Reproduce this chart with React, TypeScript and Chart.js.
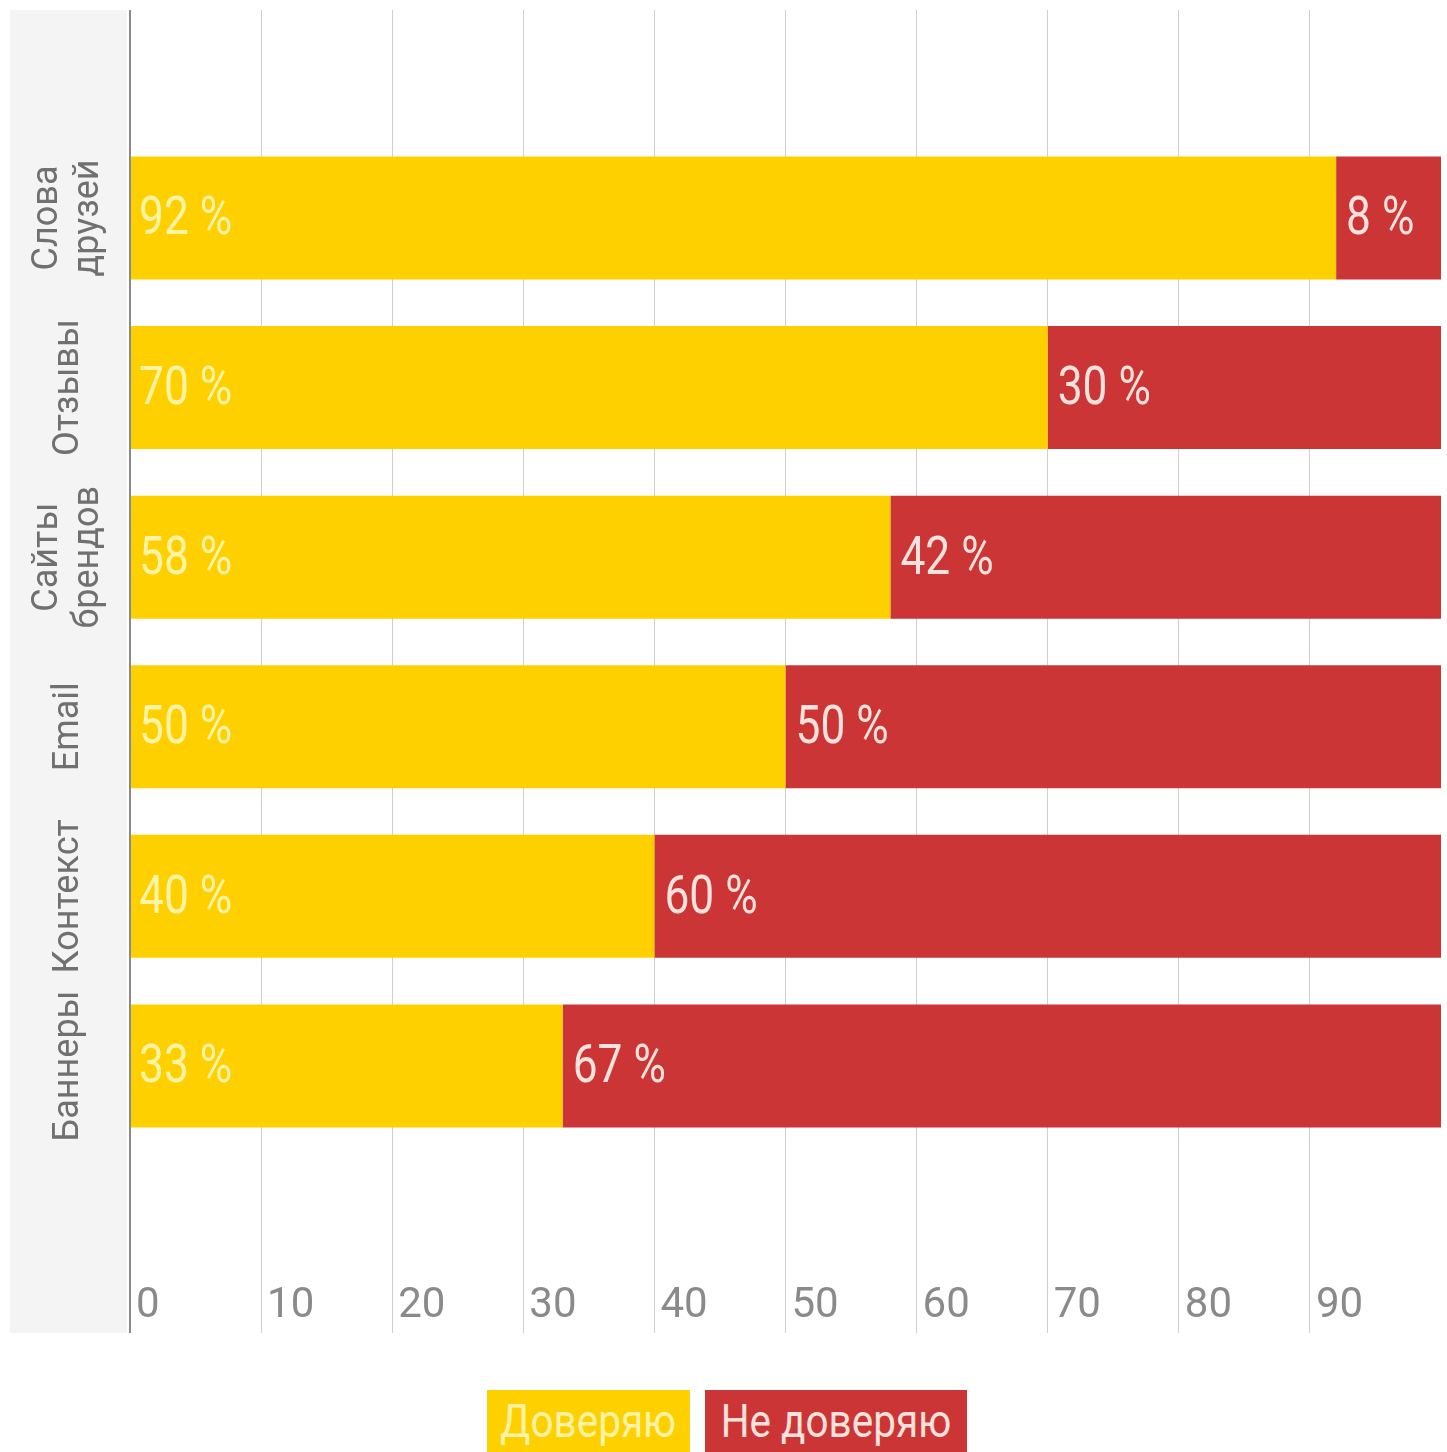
import React, { useEffect, useRef } from "react";
import { Chart, registerables } from "chart.js";

Chart.register(...registerables);

// ---- data ----
const categories: (string | string[])[] = [
  ["Слова", "друзей"],
  "Отзывы",
  ["Сайты", "брендов"],
  "Email",
  "Контекст",
  "Баннеры",
];
const trustValues = [92, 70, 58, 50, 40, 33];
const distrustValues = [8, 30, 42, 50, 60, 67];
const seriesNames = ["Доверяю", "Не доверяю"];
const xMin = 0;
const xMax = 100;
const xStep = 10;

// ---- style ----
const FONT = "Roboto, 'Liberation Sans', sans-serif";
const YELLOW = "#ffd000";
const RED = "#cb3535";
const YELLOW_TEXT = "#fff3a6";
const RED_TEXT = "#fbe2dc";

const valueLabels = {
  id: "valueLabels",
  afterDatasetsDraw(chart: any) {
    const ctx = chart.ctx;
    chart.data.datasets.forEach((ds: any, di: number) => {
      const meta = chart.getDatasetMeta(di);
      meta.data.forEach((el: any, i: number) => {
        const v = ds.data[i].x;
        const { x, y, base } = el.getProps(["x", "y", "base"], true);
        const start = Math.min(x, base);
        ctx.save();
        ctx.font = `54px ${FONT}`;
        ctx.textBaseline = "middle";
        ctx.textAlign = "left";
        ctx.fillStyle = di === 0 ? YELLOW_TEXT : RED_TEXT;
        ctx.translate(start + (di === 0 ? 8 : 10), y + 3);
        ctx.scale(0.82, 1);
        ctx.fillText(`${v} %`, 0, 0);
        ctx.restore();
      });
    });
  },
};

export default function App() {
  const ref = useRef<HTMLCanvasElement | null>(null);

  useEffect(() => {
    if (!ref.current) return;
    const chart = new Chart(ref.current, {
      type: "bar",
      data: {
        datasets: [
          {
            label: seriesNames[0],
            data: trustValues.map((v, i) => ({ x: v, y: i })),
            backgroundColor: YELLOW,
            borderWidth: 0,
          },
          {
            label: seriesNames[1],
            data: distrustValues.map((v, i) => ({ x: v, y: i })),
            backgroundColor: RED,
            borderWidth: 0,
          },
        ],
      },
      options: {
        indexAxis: "y",
        responsive: false,
        animation: false,
        devicePixelRatio: 1,
        barPercentage: 0.725,
        categoryPercentage: 1,
        layout: { padding: { left: 10, right: 6, top: 10, bottom: 0 } },
        plugins: { legend: { display: false }, tooltip: { enabled: false } },
        scales: {
          x: {
            type: "linear",
            position: "bottom",
            min: xMin,
            max: xMax,
            stacked: true,
            border: { display: false },
            grid: {
              color: (c: any) =>
                c.tick && c.tick.value === 0
                  ? "#8a8a8a"
                  : c.tick && c.tick.value === xMax
                  ? "rgba(0,0,0,0)"
                  : "#cfcfcf",
              lineWidth: (c: any) => (c.tick && c.tick.value === 0 ? 2 : 1),
              tickLength: 53,
              drawTicks: true,
            },
            ticks: {
              stepSize: xStep,
              align: "start",
              labelOffset: 6,
              padding: -52,
              maxRotation: 0,
              autoSkip: false,
              color: "#8a8a8a",
              font: { family: FONT, size: 42, lineHeight: 1.2 },
              callback: (v: any) => (v === xMax ? "" : v),
            },
            afterFit: (s: any) => {
              s.height = 60;
            },
          } as any,
          y: {
            type: "linear",
            reverse: true,
            offset: false,
            min: -1.226,
            max: 6.262,
            stacked: true,
            grid: { display: false },
            border: { display: false },
            afterBuildTicks: (s: any) => {
              s.ticks = categories.map((_, i) => ({ value: i }));
            },
            ticks: {
              minRotation: 90,
              maxRotation: 90,
              crossAlign: "center",
              padding: -24,
              autoSkip: false,
              color: "#707070",
              font: { family: FONT, size: 36, lineHeight: 1.14 },
              callback: (v: any) => (categories[v] !== undefined ? categories[v] : ""),
            },
            afterFit: (s: any) => {
              s.width = 120;
            },
          } as any,
        },
      },
      plugins: [valueLabels],
    } as any);
    return () => chart.destroy();
  }, []);

  const legendText = (t: string) => (
    <span style={{ display: "inline-block", transform: "scaleX(0.88)" }}>{t}</span>
  );

  return (
    <div
      style={{
        position: "absolute",
        left: 0,
        top: 0,
        width: 1447,
        height: 1452,
        overflow: "hidden",
        background: "#ffffff",
      }}
    >
      <div
        style={{
          position: "absolute",
          left: 10,
          top: 10,
          width: 117,
          height: 1323,
          background: "#f4f4f4",
        }}
      />
      <canvas
        ref={ref}
        width={1447}
        height={1340}
        style={{ position: "absolute", left: 0, top: 0, width: 1447, height: 1340 }}
      />
      <div
        style={{
          position: "absolute",
          left: 487,
          top: 1390,
          width: 203,
          height: 80,
          background: YELLOW,
          color: YELLOW_TEXT,
          font: `46px ${FONT}`,
          textAlign: "center",
          lineHeight: "62px",
          whiteSpace: "nowrap",
        }}
      >
        {legendText(seriesNames[0])}
      </div>
      <div
        style={{
          position: "absolute",
          left: 705,
          top: 1390,
          width: 262,
          height: 80,
          background: RED,
          color: RED_TEXT,
          font: `46px ${FONT}`,
          textAlign: "center",
          lineHeight: "62px",
          whiteSpace: "nowrap",
        }}
      >
        {legendText(seriesNames[1])}
      </div>
    </div>
  );
}
